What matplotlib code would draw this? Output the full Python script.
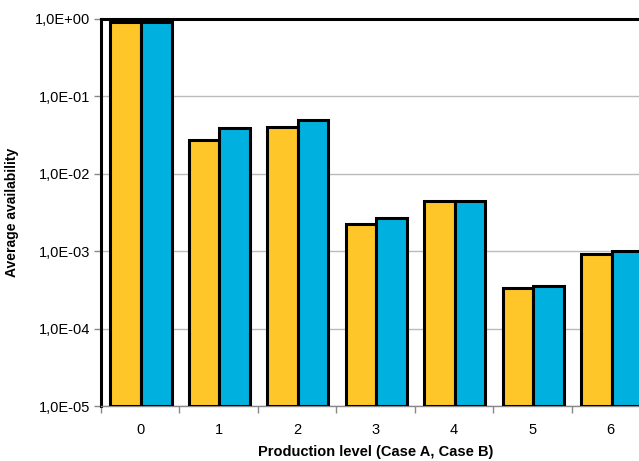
import matplotlib
matplotlib.use("Agg")
from matplotlib import pyplot as plt
from matplotlib.ticker import FixedLocator, FixedFormatter
import numpy as np

plt.rcParams['font.family'] = ['Liberation Sans', 'DejaVu Sans']

# === Data ===
levels = ["0", "1", "2", "3", "4", "5", "6"]
case_a = [0.92, 0.0273, 0.040, 0.00224, 0.00445, 0.000335, 0.00091]
case_b = [0.91, 0.039, 0.0496, 0.00268, 0.00445, 0.000358, 0.00101]
y_ticks = [1e-5, 1e-4, 1e-3, 1e-2, 1e-1, 1e0]
y_labels = ["1,0E-05", "1,0E-04", "1,0E-03", "1,0E-02", "1,0E-01", "1,0E+00"]

yellow = "#FFC629"
blue = "#00B0DE"
floor = 1e-5

fig = plt.figure(figsize=(6.39, 4.61), dpi=100)
# axes extends past the right edge, like the cropped original
ax = fig.add_axes([101 / 639, 55 / 461, 549 / 639, 387 / 461])

x = np.arange(len(levels))
w = 0.39
ax.bar(x - w / 2 + 0.01, np.array(case_a) - floor, w, bottom=floor, color=yellow,
       edgecolor="black", linewidth=2.2, zorder=3)
ax.bar(x + w / 2 + 0.01, np.array(case_b) - floor, w, bottom=floor, color=blue,
       edgecolor="black", linewidth=2.2, zorder=3)

ax.set_yscale("log")
ax.set_ylim(1e-5, 1e0)
ax.set_xlim(-0.5, len(levels) - 0.5)
ax.yaxis.set_major_locator(FixedLocator(y_ticks))
ax.yaxis.set_major_formatter(FixedFormatter(y_labels))
ax.yaxis.set_minor_locator(FixedLocator([]))
ax.grid(axis="y", color="#BBBBBB", linewidth=1, zorder=0)

ax.set_xticks(x)
ax.set_xticklabels(levels)
ax.set_xticks(np.arange(len(levels) + 1) - 0.5, minor=True)
ax.tick_params(axis="x", which="major", length=0, pad=12, labelsize=10.5)
ax.tick_params(axis="x", which="minor", length=5, color="#888888", width=1)
ax.tick_params(axis="y", which="major", length=5, color="#888888", width=1,
               labelsize=10.5, pad=3)

for side in ["left", "top"]:
    ax.spines[side].set_linewidth(2.2)
    ax.spines[side].set_color("black")
ax.spines["bottom"].set_color("#888888")
ax.spines["bottom"].set_linewidth(1)
ax.spines["right"].set_visible(False)

ax.set_ylabel("Average availability", fontsize=10, fontweight="bold", labelpad=11)
ax.set_xlabel("Production level (Case A, Case B)", fontsize=10.5, fontweight="bold",
              labelpad=6)

fig.savefig("out.png", dpi=100)
